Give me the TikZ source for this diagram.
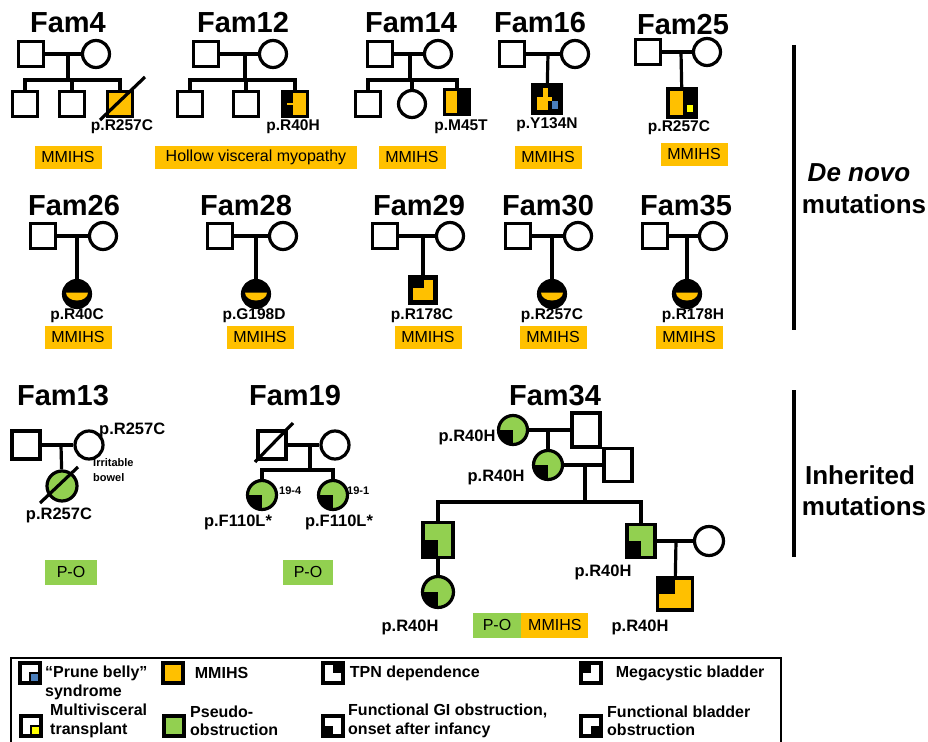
\documentclass[tikz,border=0pt]{standalone}
\usepackage{fontspec}
\setmainfont{Liberation Sans}
\usetikzlibrary{positioning}
\definecolor{mmorange}{HTML}{FFC000}
\definecolor{pogreen}{HTML}{92D050}
\definecolor{pbblue}{HTML}{4A7EBB}
\definecolor{mvyellow}{HTML}{FFFF00}
\newcommand{\qd}[2]{\fill[#1] (path picture bounding box.center) rectangle (path picture bounding box.#2);}
\newcommand{\inbox}[1]{\begin{scope}[shift={(path picture bounding box.center)}]#1\end{scope}}
\newcommand{\lowhalf}{\inbox{\fill[mmorange] (11,-1.5) arc[start angle=0, end angle=180, x radius=11, y radius=8] -- cycle;}}
\begin{document}
\begin{tikzpicture}[x=1pt, y=-1pt,
    link/.style={line width=3.2pt},
    ped/.style={draw, line width=3.2pt, inner sep=0pt},
    male/.style={ped, rectangle, minimum size=25pt},
    female/.style={ped, circle, minimum size=27pt},
    famtitle/.style={anchor=base, font=\fontsize{29}{30}\selectfont\bfseries},
    mut/.style={inner sep=0pt, font=\fontsize{15.5}{17}\selectfont\bfseries},
    mutb/.style={inner sep=0pt, font=\fontsize{16.5}{18}\selectfont\bfseries},
    dxbox/.style={fill=mmorange, minimum width=67pt, minimum height=23pt, inner sep=0pt, font=\fontsize{16}{17}\selectfont},
    pobox/.style={dxbox, fill=pogreen, minimum width=50pt, minimum height=25pt},
    side/.style={anchor=base, font=\fontsize{26}{32}\selectfont\bfseries},
    lgicon/.style={draw, line width=3.4pt, minimum size=20pt, inner sep=0pt},
    lgtext/.style={inner sep=0pt, align=left, font=\fontsize{16}{18.5}\selectfont\bfseries}]
    \useasboundingbox (0,0) rectangle (928,741);

    \node[famtitle] at (68,33) {Fam4};
    \node[male] (f4a) at (31,54) {};
    \node[female] (f4b) at (96,54) {};
    \coordinate (f4m) at (68,54);
    \coordinate (f4s) at (68,80);
    \node[male] (f4c1) at (25,104) {};
    \node[male] (f4c2) at (72,104) {};
    \node[male, fill=mmorange, path picture={\inbox{\fill (-13,-13) rectangle (13,0.3); \fill[mmorange] (-1,-6) rectangle (4,0.5);}}] (f4c3) at (120,104) {};
    \draw[link] (f4a) -- (f4b);
    \draw[link] (f4m) -- (f4s);
    \draw[link] (f4c1) |- (f4s) -| (f4c3);
    \draw[link] (f4c2) -- (f4c2 |- f4s);
    \draw[link] ([shift={(-20,16)}]f4c3.center) -- ([shift={(25,-27)}]f4c3.center);
    \node[mut] at (122,127) {p.R257C};
    \node[dxbox] at (68,157) {MMIHS};

    \node[famtitle] at (243,33) {Fam12};
    \node[male] (f12a) at (206,54) {};
    \node[female] (f12b) at (273,54) {};
    \coordinate (f12m) at (245,54);
    \coordinate (f12s) at (245,80);
    \node[male] (f12c1) at (190,104) {};
    \node[male] (f12c2) at (246,104) {};
    \node[male, fill=black, path picture={\inbox{\fill[mmorange] (-2,-13) rectangle (13,13); \fill[mmorange] (-8,-1) rectangle (-2,1.5);}}] (f12c3) at (295,104) {};
    \draw[link] (f12a) -- (f12b);
    \draw[link] (f12m) -- (f12s);
    \draw[link] (f12c1) |- (f12s) -| (f12c3);
    \draw[link] (f12c2) -- (f12c2 |- f12s);
    \node[mut] at (293,127) {p.R40H};
    \node[dxbox, minimum width=202pt] at (256,157) {Hollow visceral myopathy};

    \node[famtitle] at (411,33) {Fam14};
    \node[male] (f14a) at (380,54) {};
    \node[female] (f14b) at (438,54) {};
    \coordinate (f14m) at (410,54);
    \coordinate (f14s) at (410,80);
    \node[male] (f14c1) at (368,104) {};
    \node[female] (f14c2) at (412,104) {};
    \node[male, fill=black, path picture={\inbox{\fill[mmorange] (-13,-13) rectangle (0.3,13);}}] (f14c3) at (457,102) {};
    \draw[link] (f14a) -- (f14b);
    \draw[link] (f14m) -- (f14s);
    \draw[link] (f14c1) |- (f14s) -| (f14c3);
    \draw[link] (f14c2) -- (f14c2 |- f14s);
    \node[mut] at (461,127) {p.M45T};
    \node[dxbox] at (412,157) {MMIHS};

    \node[famtitle] at (540,33) {Fam16};
    \node[male] (f16a) at (512,54) {};
    \node[female] (f16b) at (575,54) {};
    \coordinate (f16m) at (548,54);
    \node[male, minimum size=28pt, fill=black, path picture={\inbox{\fill[mmorange] (-10,-2) rectangle (1,11); \fill[mmorange] (-4,-11) rectangle (1,-2); \fill[mmorange] (1,-2) rectangle (5,2); \fill[pbblue] (5,2) rectangle (11,10);}}] (f16c) at (547,99) {};
    \draw[link] (f16a) -- (f16b);
    \draw[link] (f16m) -- (f16c);
    \node[mut] at (547,125) {p.Y134N};
    \node[dxbox] at (548,157) {MMIHS};

    \node[famtitle] at (683,35) {Fam25};
    \node[male] (f25a) at (648,52) {};
    \node[female] (f25b) at (707,52) {};
    \coordinate (f25m) at (681,52);
    \node[male, minimum size=28pt, fill=black, path picture={\inbox{\fill[mmorange] (-14,-14) rectangle (0.8,14); \fill[mvyellow] (4.8,1.7) rectangle (11,9.3);}}] (f25c) at (682,103) {};
    \draw[link] (f25a) -- (f25b);
    \draw[link] (f25m) -- (f25c);
    \node[mut] at (679,128) {p.R257C};
    \node[dxbox] at (694,154) {MMIHS};

    \node[famtitle] at (74,215) {Fam26};
    \node[male] (f26a) at (43,236) {};
    \node[female] (f26b) at (103,236) {};
    \coordinate (f26m) at (77,236);
    \node[female, fill=black, path picture={\lowhalf}] (f26c) at (77,294) {};
    \draw[link] (f26a) -- (f26b);
    \draw[link] (f26m) -- (f26c);
    \node[mut] at (77,316) {p.R40C};
    \node[dxbox] at (78,337) {MMIHS};

    \node[famtitle] at (246,215) {Fam28};
    \node[male] (f28a) at (220,236) {};
    \node[female] (f28b) at (283,236) {};
    \coordinate (f28m) at (256,236);
    \node[female, fill=black, path picture={\lowhalf}] (f28c) at (256,294) {};
    \draw[link] (f28a) -- (f28b);
    \draw[link] (f28m) -- (f28c);
    \node[mut] at (254,316) {p.G198D};
    \node[dxbox] at (260,337) {MMIHS};

    \node[famtitle] at (419,215) {Fam29};
    \node[male] (f29a) at (385,236) {};
    \node[female] (f29b) at (450,236) {};
    \coordinate (f29m) at (423,236);
    \node[male, minimum size=27pt, fill=black, path picture={\inbox{\fill[mmorange] (-10,-2) rectangle (10,10); \fill[mmorange] (1,-10) rectangle (10,-2);}}] (f29c) at (423,290) {};
    \draw[link] (f29a) -- (f29b);
    \draw[link] (f29m) -- (f29c);
    \node[mut] at (422,316) {p.R178C};
    \node[dxbox] at (428,337) {MMIHS};

    \node[famtitle] at (548,215) {Fam30};
    \node[male] (f30a) at (518,236) {};
    \node[female] (f30b) at (578,236) {};
    \coordinate (f30m) at (552,236);
    \node[female, fill=black, path picture={\lowhalf}] (f30c) at (552,294) {};
    \draw[link] (f30a) -- (f30b);
    \draw[link] (f30m) -- (f30c);
    \node[mut] at (552,316) {p.R257C};
    \node[dxbox] at (553,337) {MMIHS};

    \node[famtitle] at (686,215) {Fam35};
    \node[male] (f35a) at (655,236) {};
    \node[female] (f35b) at (713,236) {};
    \coordinate (f35m) at (687,236);
    \node[female, fill=black, path picture={\lowhalf}] (f35c) at (687,294) {};
    \draw[link] (f35a) -- (f35b);
    \draw[link] (f35m) -- (f35c);
    \node[mut] at (693,316) {p.R178H};
    \node[dxbox] at (689,337) {MMIHS};

    \draw[link] (794,45) -- (794,330);
    \node[side] at (859,181) {\textit{De novo}};
    \node[side] at (864,213) {mutations};

    \node[famtitle] at (63,405) {Fam13};
    \node[male, minimum size=28pt] (f13a) at (26,445) {};
    \node[female, minimum size=28pt] (f13b) at (89,445) {};
    \coordinate (f13m) at (61,445);
    \node[female, minimum size=30pt, fill=pogreen, path picture={\fill (path picture bounding box.south west) rectangle (path picture bounding box.north);}] (f13c) at (62,486) {};
    \draw[link] (f13a) -- (f13b);
    \draw[link] (f13m) -- (f13c);
    \draw[link] ([shift={(-22,17)}]f13c.center) -- ([shift={(16,-19)}]f13c.center);
    \node[mutb, anchor=west] at (99,430) {p.R257C};
    \node[anchor=west, align=left, inner sep=0pt, font=\fontsize{11}{15}\selectfont\bfseries] at (93,470) {Irritable\\bowel};
    \node[mutb] at (59,515) {p.R257C};
    \node[pobox, minimum width=52pt] at (71,572) {P-O};

    \node[famtitle] at (295,405) {Fam19};
    \node[male, minimum size=28pt] (f19a) at (272,445) {};
    \node[female, minimum size=28pt] (f19b) at (335,445) {};
    \coordinate (f19m) at (310,445);
    \coordinate (f19s) at (310,470);
    \node[female, minimum size=29pt, fill=pogreen, path picture={\qd{black}{south west}}] (f19c1) at (262,495) {};
    \node[female, minimum size=29pt, fill=pogreen, path picture={\qd{black}{south west}}] (f19c2) at (333,495) {};
    \draw[link] (f19a) -- (f19b);
    \draw[link] (f19m) -- (f19s);
    \draw[link] (f19c1) |- (f19s) -| (f19c2);
    \draw[link] ([shift={(-17,17)}]f19a.center) -- ([shift={(21,-22)}]f19a.center);
    \node[anchor=west, inner sep=0pt, font=\fontsize{11}{12}\selectfont\bfseries] at (279,491) {19-4};
    \node[anchor=west, inner sep=0pt, font=\fontsize{11}{12}\selectfont\bfseries] at (347,491) {19-1};
    \node[mutb] at (238,522) {p.F110L*};
    \node[mutb] at (339,522) {p.F110L*};
    \node[pobox] at (308,572) {P-O};

    \node[famtitle] at (555,405) {Fam34};
    \node[female, minimum size=29pt, fill=pogreen, path picture={\qd{black}{south west}}] (f34ga) at (513,430) {};
    \node[male, minimum width=28pt, minimum height=34pt] (f34gb) at (586,430) {};
    \coordinate (f34m1) at (548,430);
    \node[female, minimum size=29pt, fill=pogreen, path picture={\qd{black}{south west}}] (f34mo) at (548,465) {};
    \node[male, minimum width=28pt, minimum height=33pt] (f34mb) at (618,465) {};
    \coordinate (f34m2) at (585,465);
    \coordinate (f34s) at (585,502);
    \node[male, minimum width=30pt, minimum height=35pt, fill=pogreen, path picture={\qd{black}{south west}}] (f34s1) at (438,540) {};
    \node[male, minimum width=28pt, minimum height=33pt, fill=pogreen, path picture={\qd{black}{south west}}] (f34s2) at (641,541) {};
    \node[female, minimum size=29pt] (f34sp) at (709,541) {};
    \coordinate (f34m3) at (676,541);
    \node[female, minimum size=31pt, fill=pogreen, path picture={\qd{black}{south west}}] (f34gc1) at (438,592) {};
    \node[male, minimum width=35pt, minimum height=32pt, fill=mmorange, path picture={\qd{black}{north west}}] (f34gc2) at (675,594) {};
    \draw[link] (f34ga) -- (f34gb);
    \draw[link] (f34m1) -- (f34mo);
    \draw[link] (f34mo) -- (f34mb);
    \draw[link] (f34m2) -- (f34s);
    \draw[link] (f34s1) |- (f34s) -| (f34s2);
    \draw[link] (f34s2) -- (f34sp);
    \draw[link] (f34m3) -- (f34gc2);
    \draw[line width=4.8pt] (f34s1) -- (f34gc1);
    \node[mutb] at (467,437) {p.R40H};
    \node[mutb] at (496,477) {p.R40H};
    \node[mutb] at (603,572) {p.R40H};
    \node[mutb] at (640,627) {p.R40H};
    \node[mutb] at (410,627) {p.R40H};
    \node[pobox, minimum width=48pt] (f34p) at (497,625) {P-O};
    \node[dxbox, minimum height=25pt, right=0pt of f34p] (f34d) {MMIHS};

    \draw[link] (794,390) -- (794,557);
    \node[side] at (860,484) {Inherited};
    \node[side] at (864,515) {mutations};

    \draw[line width=2.8pt] (11,658) rectangle (781,760);
    \node[lgicon, path picture={\inbox{\fill[pbblue] (0,0) rectangle (10,10); \draw[line width=2pt] (0,10) -- (0,0) -- (10,0);}}] (lg1) at (30,673) {};
    \node[lgicon, fill=mmorange] (lg2) at (173,673) {};
    \node[lgicon, path picture={\qd{black}{north east}}] (lg3) at (333,673) {};
    \node[lgicon, path picture={\qd{black}{north west}}] (lg4) at (591,673) {};
    \node[lgicon, path picture={\inbox{\fill[mvyellow] (0,0) rectangle (10,10); \draw[line width=2pt] (0,10) -- (0,0) -- (10,0);}}] (lg5) at (31,726) {};
    \node[lgicon, fill=pogreen] (lg6) at (174,726) {};
    \node[lgicon, path picture={\qd{black}{south west}}] (lg7) at (333,726) {};
    \node[lgicon, path picture={\qd{black}{south east}}] (lg8) at (591,726) {};
    \node[lgtext, anchor=west] at (45,683) {``Prune belly''\\syndrome};
    \node[lgtext, right=10pt of lg2] {MMIHS};
    \node[lgtext, right=5pt of lg3] {TPN dependence};
    \node[lgtext, right=13pt of lg4] {Megacystic bladder};
    \node[lgtext, anchor=west] at (50,721) {Multivisceral\\transplant};
    \node[lgtext, anchor=west] at (190,721) {Pseudo-\\obstruction};
    \node[lgtext, anchor=west] at (348,721) {Functional GI obstruction,\\onset after infancy};
    \node[lgtext, anchor=west] at (607,721) {Functional bladder\\obstruction};
\end{tikzpicture}
\end{document}
